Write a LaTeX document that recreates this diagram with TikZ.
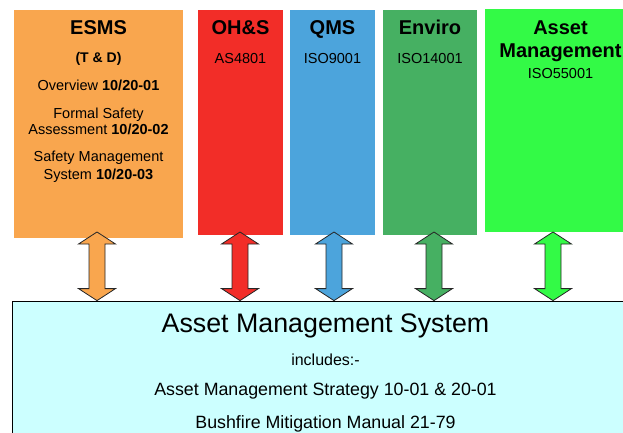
\documentclass[tikz,border=0pt]{standalone}
\usepackage{fontspec}
\setmainfont{Liberation Sans}
\usetikzlibrary{calc}
\definecolor{esmsorange}{RGB}{249,166,78}
\definecolor{ohsred}{RGB}{242,45,40}
\definecolor{qmsblue}{RGB}{76,164,220}
\definecolor{envgreen}{RGB}{70,176,98}
\definecolor{amgreen}{RGB}{51,250,70}
\definecolor{amscyan}{RGB}{204,255,255}

\begin{document}
\begin{tikzpicture}[x=1pt, y=-1pt,
  colbox/.style={inner sep=0pt, draw=none},
  boxtitle/.style={anchor=base, inner sep=0pt, font=\fontsize{20}{24}\selectfont\bfseries},
  boxtext/.style={anchor=base, inner sep=0pt, font=\fontsize{14.5}{17}\selectfont},
  amstext/.style={anchor=base, inner sep=0pt, font=\fontsize{17.8}{21}\selectfont},
  fatarrow/.style={draw=black!85, line width=0.8pt, line join=miter,
    to path={let \p1=(\tikztostart), \p2=(\tikztotarget) in
      -- (\x1+18.5pt,\y1-12pt) -- (\x1+8pt,\y1-12pt)
      -- (\x1+8pt,\y2+12pt) -- (\x1+18.5pt,\y2+12pt) -- (\x1,\y2)
      -- (\x1-18.5pt,\y2+12pt) -- (\x1-8pt,\y2+12pt)
      -- (\x1-8pt,\y1-12pt) -- (\x1-18.5pt,\y1-12pt) -- cycle}}]
  \useasboundingbox (0,0) rectangle (623,433);
  \clip (0,0) rectangle (623,433);

  % the five management systems
  \node[colbox, fill=esmsorange, minimum width=169pt, minimum height=227.5pt] (esms) at (98.5,123.75) {};
  \node[colbox, fill=ohsred, minimum width=85pt, minimum height=225pt] (ohs) at (240.5,122.5) {};
  \node[colbox, fill=qmsblue, minimum width=85pt, minimum height=225pt] (qms) at (332.5,122.5) {};
  \node[colbox, fill=envgreen, minimum width=94pt, minimum height=225pt] (env) at (430,122.5) {};
  \node[colbox, fill=amgreen, minimum width=151pt, minimum height=222.7pt] (am) at (560.5,120.35) {};

  \node[boxtitle] (esmsname) at (98.5,35) {ESMS};
  \node[boxtext, font=\fontsize{14}{17}\selectfont\bfseries] (esmstd) at (98.5,62.5) {(T \& D)};
  \node[boxtext] (esmsov) at (98.5,90.7) {Overview \textbf{10/20-01}};
  \node[boxtext] (esmsfsa) at (98.5,118.3) {Formal Safety};
  \node[boxtext] (esmsfsb) at (98.5,134.3) {Assessment \textbf{10/20-02}};
  \node[boxtext] (esmssma) at (98.5,161.7) {Safety Management};
  \node[boxtext] (esmssmb) at (98.5,179) {System \textbf{10/20-03}};

  \node[boxtitle] (ohsname) at (240.5,35) {OH\&S};
  \node[boxtext] (ohsstd) at (240.5,63.3) {AS4801};
  \node[boxtitle] (qmsname) at (332.5,35) {QMS};
  \node[boxtext] (qmsstd) at (332.5,63.3) {ISO9001};
  \node[boxtitle] (envname) at (430,35) {Enviro};
  \node[boxtext] (envstd) at (430,63.3) {ISO14001};
  \node[boxtitle] (amnamea) at (560.5,35) {Asset};
  \node[boxtitle] (amnameb) at (560.5,57.3) {Management};
  \node[boxtext] (amstd) at (560.5,78.3) {ISO55001};

  % the asset management system underneath
  \node[colbox, fill=amscyan, draw=black, line width=0.8pt, minimum width=627pt, minimum height=160pt] (ams) at (325.5,381) {};
  \node[amstext, font=\fontsize{26.8}{30}\selectfont] (amsname) at (325.5,332) {Asset Management System};
  \node[amstext, font=\fontsize{16}{19}\selectfont] (amsinc) at (325.5,365) {includes:-};
  \node[amstext] (amsstrat) at (325.5,395.7) {Asset Management Strategy 10-01 \& 20-01};
  \node[amstext] (amsbush) at (325.5,428) {Bushfire Mitigation Manual 21-79};

  % two-way links
  \foreach \ax/\acol in {97/esmsorange, 240/ohsred, 334/qmsblue, 434/envgreen, 553/amgreen} {
    \coordinate (tip\ax) at (\ax,232);
    \draw[fatarrow, fill=\acol] (tip\ax) to (tip\ax |- ams.north);
  }
\end{tikzpicture}
\end{document}
